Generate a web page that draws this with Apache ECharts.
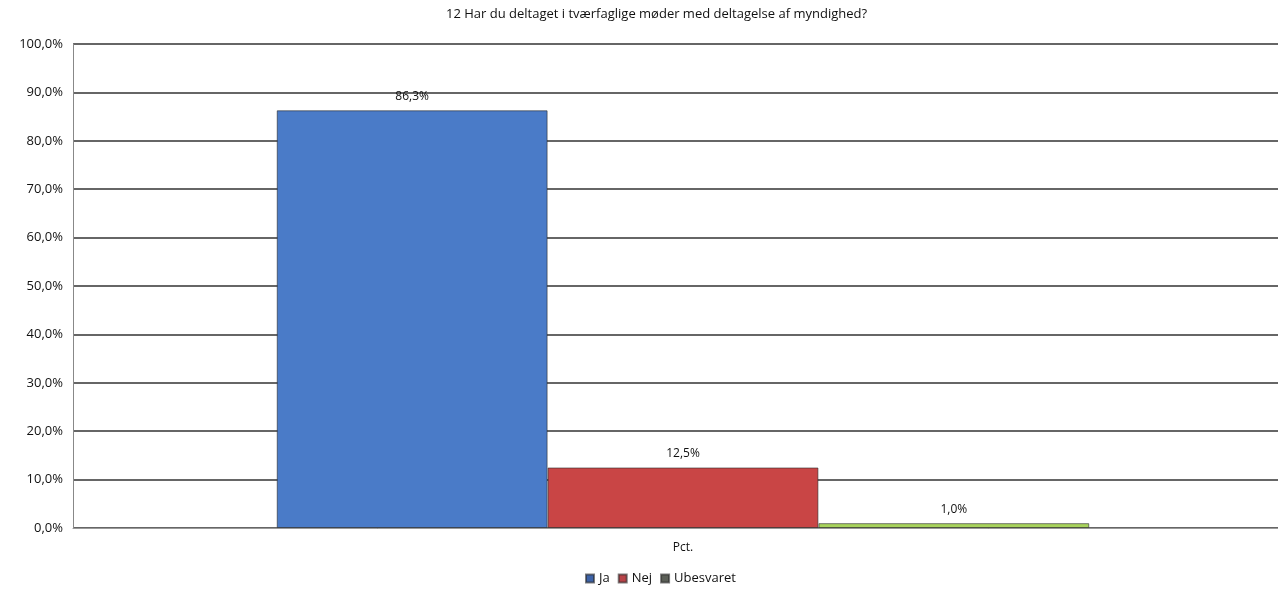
<!DOCTYPE html>
<html><head><meta charset="utf-8">
<script src="https://cdn.jsdelivr.net/npm/echarts@6/dist/echarts.min.js"></script>
<style>html,body{margin:0;padding:0;background:#fff;overflow:hidden;width:1278px;height:597px}#c{width:1293px;height:597px}</style>
</head><body><div id="c"></div>
<script>
const titleText = '12 Har du deltaget i tværfaglige møder med deltagelse af myndighed?';
const categories = ['Pct.'];
const seriesNames = ['Ja', 'Nej', 'Ubesvaret'];
const seriesValues = [[86.3], [12.5], [1.0]];
const seriesColors = ['#4a7bc8', '#c94545', '#a8d35c'];
const legendColors = ['#3d63a8', '#b84348', '#5b5f57'];
const yTicks = [0, 10, 20, 30, 40, 50, 60, 70, 80, 90, 100];

const fmt = v => v.toFixed(1).replace('.', ',') + '%';
const chart = echarts.init(document.getElementById('c'), null, {renderer: 'canvas'});
const font = '"Open Sans", "DejaVu Sans", sans-serif';
chart.setOption({
  animation: false,
  textStyle: {fontFamily: font},
  title: {text: titleText, left: 441, top: 3, textStyle: {fontSize: 13, fontWeight: 'normal', color: '#111', fontFamily: font}},
  legend: {
    bottom: 7, left: 580, itemWidth: 8, itemHeight: 8, itemGap: 8,
    icon: 'rect',
    textStyle: {fontSize: 13, color: '#111', fontFamily: font},
    data: seriesNames.map((n, i) => ({name: n, itemStyle: {color: legendColors[i]}}))
  },
  grid: {left: 73, right: 0, top: 44, bottom: 69, containLabel: false},
  xAxis: {
    type: 'category', data: categories,
    axisLine: {lineStyle: {color: '#999'}},
    axisTick: {show: false},
    axisLabel: {fontSize: 12, color: '#111', margin: 14}
  },
  yAxis: {
    type: 'value', min: 0, max: 100, interval: 10,
    axisLine: {show: true, lineStyle: {color: '#888'}},
    axisTick: {show: false},
    axisLabel: {fontSize: 13, color: '#111', margin: 10, formatter: v => fmt(v)},
    splitLine: {lineStyle: {color: '#333', width: 1.5}}
  },
  series: seriesNames.map((n, i) => ({
    name: n, type: 'bar', data: seriesValues[i],
    barGap: '0%', barCategoryGap: '33.4%',
    itemStyle: {color: seriesColors[i], borderColor: 'rgba(40,40,40,0.6)', borderWidth: 1},
    label: {show: true, position: 'top', distance: 8, fontSize: 12, color: '#111', formatter: p => fmt(p.value)}
  }))
});
</script></body></html>
